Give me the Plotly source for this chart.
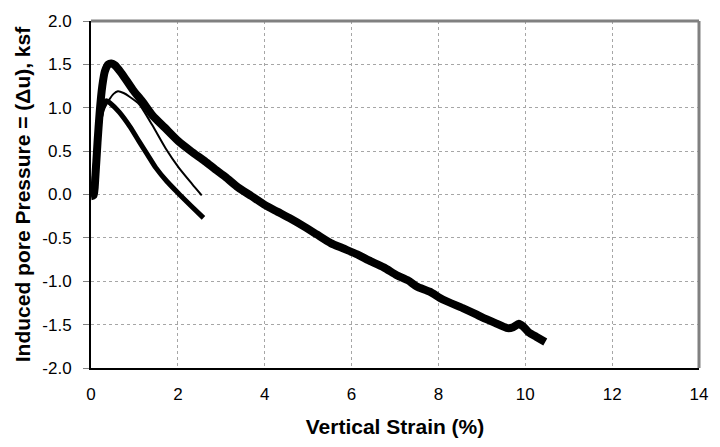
import plotly.graph_objects as go

# Induced pore pressure vs vertical strain, three tests
main_x = [0.0, 0.06, 0.1, 0.15, 0.2, 0.26, 0.32, 0.4, 0.47, 0.55, 0.7, 0.96, 1.2, 1.42,
          1.7, 2.02, 2.3, 2.63, 2.86, 3.1, 3.39, 3.7, 4.0, 4.3, 4.6, 4.91, 5.2, 5.52, 5.8,
          6.13, 6.4, 6.74, 7.04, 7.3, 7.5, 7.8, 8.1, 8.56, 8.86, 9.02, 9.3, 9.59, 9.72,
          9.85, 9.95, 10.08, 10.25, 10.46]
main_y = [-0.02, -0.01, 0.2, 0.6, 0.95, 1.25, 1.42, 1.5, 1.51, 1.49, 1.4, 1.21, 1.06, 0.91,
          0.77, 0.61, 0.5, 0.38, 0.29, 0.2, 0.08, -0.02, -0.12, -0.2, -0.28, -0.37, -0.46,
          -0.56, -0.62, -0.69, -0.76, -0.84, -0.93, -0.99, -1.06, -1.12, -1.21, -1.31,
          -1.38, -1.42, -1.48, -1.54, -1.53, -1.49, -1.52, -1.59, -1.64, -1.70]

thin_x = [0.05, 0.12, 0.2, 0.3, 0.43, 0.52, 0.62, 0.75, 0.88, 1.11, 1.41, 1.72, 2.02, 2.33, 2.55]
thin_y = [0.0, 0.4, 0.75, 0.98, 1.10, 1.16, 1.19, 1.17, 1.13, 1.04, 0.80, 0.53, 0.31, 0.12, -0.01]

mid_x = [0.05, 0.1, 0.18, 0.26, 0.35, 0.45, 0.65, 0.9, 1.11, 1.3, 1.49, 1.75, 2.02, 2.3, 2.59]
mid_y = [0.0, 0.35, 0.75, 1.0, 1.08, 1.05, 0.95, 0.78, 0.61, 0.46, 0.31, 0.15, 0.01, -0.13, -0.27]

x_ticks = [0, 2, 4, 6, 8, 10, 12, 14]
y_ticks = [-2.0, -1.5, -1.0, -0.5, 0.0, 0.5, 1.0, 1.5, 2.0]

fig = go.Figure()
fig.add_trace(go.Scatter(x=mid_x, y=mid_y, mode="lines",
                         line=dict(color="black", width=5, shape="spline", smoothing=0.6)))
fig.add_trace(go.Scatter(x=thin_x, y=thin_y, mode="lines",
                         line=dict(color="black", width=2, shape="spline", smoothing=0.6)))
fig.add_trace(go.Scatter(x=main_x, y=main_y, mode="lines",
                         line=dict(color="black", width=8, shape="spline", smoothing=0.6)))

font = "Liberation Sans, Arial, sans-serif"
grid = dict(showgrid=True, gridcolor="#a6a6a6", gridwidth=1, griddash="dot",
            zeroline=False, showline=True, linecolor="black", linewidth=2)

fig.update_layout(
    width=720, height=447,
    margin=dict(l=91, r=13, t=13, b=79),
    paper_bgcolor="white", plot_bgcolor="white",
    showlegend=False,
    font=dict(family=font, size=17, color="black"),
    xaxis=dict(range=[0, 14], tickvals=x_ticks, ticktext=[str(v) for v in x_ticks],
               ticks="", tickfont=dict(size=17), ticklabelstandoff=10,
               title=dict(text="<b>Vertical Strain (%)</b>", font=dict(size=21), standoff=16),
               **grid),
    yaxis=dict(range=[-2, 2], tickvals=y_ticks, ticktext=[f"{v:.1f}" for v in y_ticks],
               ticks="outside", ticklen=6, tickcolor="#808080", tickfont=dict(size=17),
               ticklabelstandoff=8,
               title=dict(text="<b>Induced pore Pressure = (\u0394u), ksf</b>",
                          font=dict(size=21), standoff=6),
               **grid),
    shapes=[
        dict(type="line", xref="paper", yref="paper", x0=0, x1=1, y0=1, y1=1,
             line=dict(color="#808080", width=3)),
        dict(type="line", xref="paper", yref="paper", x0=1, x1=1, y0=0, y1=1,
             line=dict(color="#808080", width=3)),
    ],
)

fig.write_html("out.html")
